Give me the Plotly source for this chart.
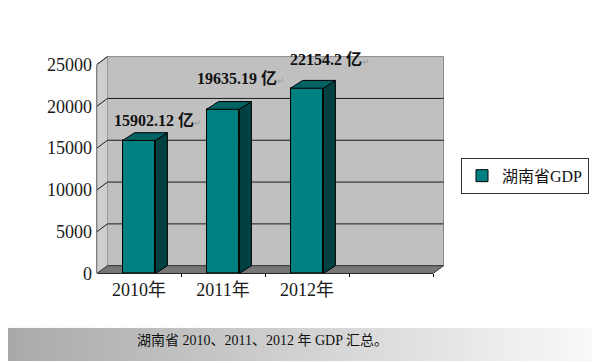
import plotly.graph_objects as go

# ---------------- data ----------------
categories = ["2010年", "2011年", "2012年"]
gdp = [15902.12, 19635.19, 22154.2]
y_ticks = [0, 5000, 10000, 15000, 20000, 25000]
series_name = "湖南省GDP"
unit = "亿"
caption = "湖南省 2010、2011、2012 年 GDP 汇总。"

# label nudges in pixels (style)
label_dx = [-11, -12, -3]
label_dy = [20, 31, 29]

# ---------------- geometry / style ----------------
# The figure lands 8px right of the window's left edge (page body margin).
OX, OY = 8, 0
W, H = 600 - OX, 363 - OY

X_LEFT_PX = 97          # screen x of front-left corner
CAT_PX = 84             # width of one category slot
Y_ZERO_PX = 273         # screen y of value 0 (front)
Y_PX_PER_UNIT = 215 / 25000
N_SLOTS = 4
DXW = 10.5 / CAT_PX
DYW = 8 / Y_PX_PER_UNIT
DXB = 12 / CAT_PX
DYB = 8 / Y_PX_PER_UNIT
BAR_W = 0.39

FACE = "#008080"
SIDE = "#004040"
TOP = "#006262"
SERIF = "Liberation Serif, 'Noto Sans CJK SC', serif"

xl, xr = -0.5, N_SLOTS - 0.5
ytop = y_ticks[-1]
x_range = [xl, xr + DXW + 0.02]
y_range = [0, ytop + DYW + 150]


def sx(v):  # data x -> screen px
    return X_LEFT_PX + (v + 0.5) * CAT_PX


def sy(v):  # data y -> screen px
    return Y_ZERO_PX - v * Y_PX_PER_UNIT


def px_x(s):  # screen x -> paper fraction
    return (s - OX) / W


def px_y(s):  # screen y -> paper fraction
    return (H - (s - OY)) / H


x_domain = [px_x(sx(x_range[0])), px_x(sx(x_range[1]))]
y_domain = [px_y(sy(y_range[0])), px_y(sy(y_range[1]))]

shapes = []
# caption band: horizontal gray -> white gradient (screen y 329..363)
n = 116
for k in range(n):
    s0 = OX + k * W / n
    s1 = OX + (k + 1) * W / n
    t = (s0 + s1) / 2 / 600
    c = int(round(168 + (250 - 168) * t))
    shapes.append(dict(type="rect", xref="paper", yref="paper",
                       x0=px_x(s0), x1=px_x(s1) + 0.002, y0=0, y1=px_y(329),
                       fillcolor=f"rgb({c},{c},{c})", line_width=0, layer="below"))

# back wall
shapes.append(dict(type="rect", xref="x", yref="y",
                   x0=xl + DXW, x1=xr + DXW, y0=DYW, y1=ytop + DYW,
                   fillcolor="#c0c0c0", line=dict(color="#8a8a8a", width=1), layer="below"))
# left wall
shapes.append(dict(type="path", xref="x", yref="y",
                   path=f"M{xl},0 L{xl},{ytop} L{xl+DXW},{ytop+DYW} L{xl+DXW},{DYW} Z",
                   fillcolor="#cecece", line=dict(color="#9a9a9a", width=1), layer="below"))
# floor
shapes.append(dict(type="path", xref="x", yref="y",
                   path=f"M{xl},0 L{xr},0 L{xr+DXW},{DYW} L{xl+DXW},{DYW} Z",
                   fillcolor="#777777", line=dict(color="#333333", width=1), layer="below"))
# gridlines: diagonal on the side wall + horizontal on the back wall
for v in y_ticks[1:]:
    if v == ytop:
        path = f"M{xl},{v} L{xl+DXW},{v+DYW}"
    else:
        path = f"M{xl},{v} L{xl+DXW},{v+DYW} L{xr+DXW},{v+DYW}"
    shapes.append(dict(type="path", xref="x", yref="y", path=path,
                       line=dict(color="#1a1a1a", width=1), layer="below"))
# front axis lines
shapes.append(dict(type="line", xref="paper", yref="y",
                   x0=px_x(X_LEFT_PX), x1=px_x(X_LEFT_PX), y0=0, y1=ytop,
                   line=dict(color="black", width=1), layer="below"))
shapes.append(dict(type="line", xref="x", yref="paper",
                   x0=xl, x1=xr, y0=px_y(Y_ZERO_PX), y1=px_y(Y_ZERO_PX),
                   line=dict(color="black", width=1), layer="below"))

fig = go.Figure()

xs = list(range(len(gdp)))
fig.add_trace(go.Bar(
    x=xs, y=gdp, width=BAR_W, name=series_name,
    marker=dict(color=FACE, line=dict(color="#000000", width=1)),
    hoverinfo="skip", showlegend=True,
))

side_x, side_y, top_x, top_y = [], [], [], []
for i, v in zip(xs, gdp):
    r = i + BAR_W / 2
    l = i - BAR_W / 2
    side_x += [r, r + DXB, r + DXB, r, r, None]
    side_y += [0, DYB, v + DYB, v, 0, None]
    top_x += [l, r, r + DXB, l + DXB, l, None]
    top_y += [v, v, v + DYB, v + DYB, v, None]

fig.add_trace(go.Scatter(x=side_x, y=side_y, mode="lines", fill="toself",
                         fillcolor=SIDE, line=dict(color="#000000", width=1),
                         showlegend=False, hoverinfo="skip"))
fig.add_trace(go.Scatter(x=top_x, y=top_y, mode="lines", fill="toself",
                         fillcolor=TOP, line=dict(color="#000000", width=1),
                         showlegend=False, hoverinfo="skip"))

annotations = []
for i, v in enumerate(gdp):
    annotations.append(dict(
        x=i - BAR_W / 2, y=v, xref="x", yref="y",
        xanchor="left", yanchor="middle", showarrow=False,
        xshift=label_dx[i], yshift=label_dy[i],
        text=f"<b>{v} {unit}</b><span style='font-size:9px;color:#9a9a9a'>↵</span>",
        font=dict(family=SERIF, size=16, color="#111111"),
    ))
annotations.append(dict(
    x=px_x(262), y=px_y(342), xref="paper", yref="paper",
    xanchor="center", yanchor="middle", showarrow=False,
    text=caption, font=dict(family=SERIF, size=14, color="#111111"),
))

fig.update_layout(
    width=W, height=H, autosize=False,
    margin=dict(l=0, r=0, t=0, b=0),
    paper_bgcolor="white", plot_bgcolor="rgba(0,0,0,0)",
    shapes=shapes, annotations=annotations,
    bargap=0,
    xaxis=dict(
        domain=x_domain, range=x_range, anchor="y",
        tickmode="array", tickvals=xs, ticktext=categories,
        ticks="", showgrid=False, zeroline=False, showline=False,
        ticklabelstandoff=4,
        tickfont=dict(family=SERIF, size=18, color="#1a1a1a"),
        minor=dict(tickmode="array", tickvals=[k + 0.5 for k in range(N_SLOTS)],
                   ticks="outside", ticklen=3, tickcolor="black", showgrid=False),
        fixedrange=True,
    ),
    yaxis=dict(
        domain=y_domain, range=y_range, anchor="x",
        tickmode="array", tickvals=y_ticks, ticktext=[str(t) for t in y_ticks],
        ticks="", ticklabelstandoff=4,
        showgrid=False, zeroline=False, showline=False,
        tickfont=dict(family=SERIF, size=18, color="#1a1a1a"),
        fixedrange=True,
    ),
    legend=dict(
        x=px_x(461), y=px_y(154), xanchor="left", yanchor="top",
        bgcolor="white", bordercolor="#333333", borderwidth=1,
        font=dict(family=SERIF, size=16, color="#111111"),
        itemwidth=30,
    ),
)

fig.write_html("out.html")
